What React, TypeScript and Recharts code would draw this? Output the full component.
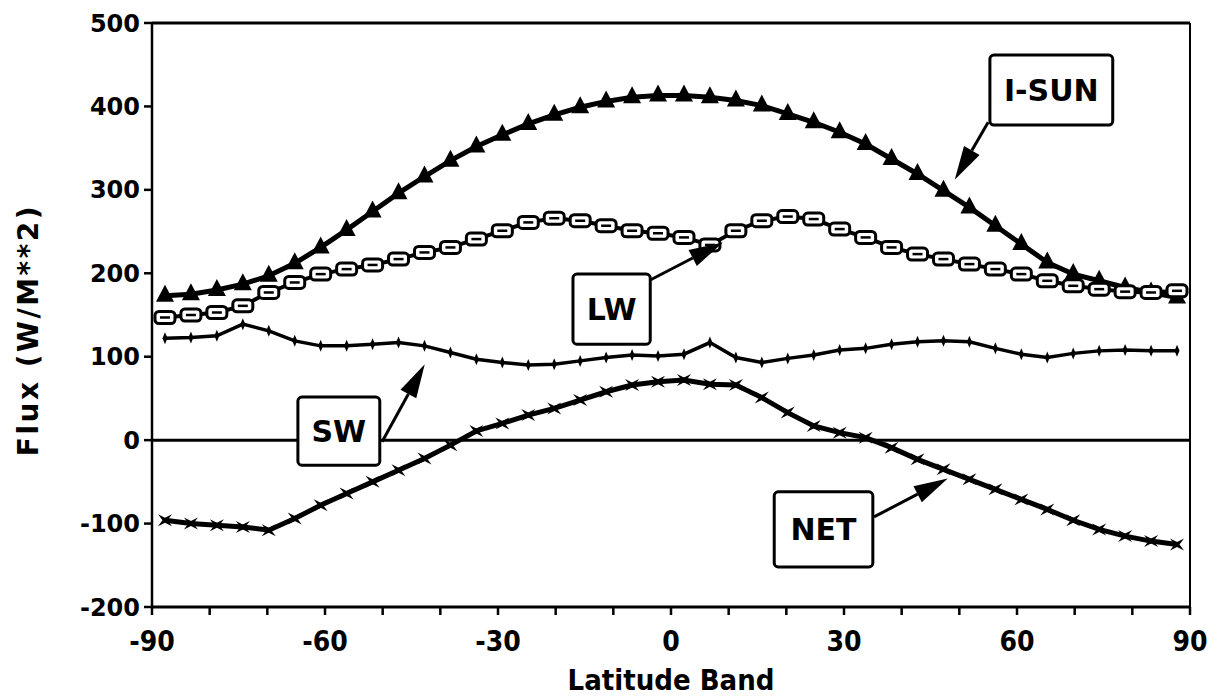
import { LineChart, Line, XAxis, YAxis, ReferenceLine, ReferenceArea } from "recharts"

// 4.5 degree latitude bands (band centres)
const latitudes = [
  -87.75, -83.25, -78.75, -74.25, -69.75, -65.25, -60.75, -56.25, -51.75, -47.25,
  -42.75, -38.25, -33.75, -29.25, -24.75, -20.25, -15.75, -11.25, -6.75, -2.25,
  2.25, 6.75, 11.25, 15.75, 20.25, 24.75, 29.25, 33.75, 38.25, 42.75,
  47.25, 51.75, 56.25, 60.75, 65.25, 69.75, 74.25, 78.75, 83.25, 87.75,
]

const iSun = [
  173, 175, 180, 187, 197, 212, 231, 252, 274, 296,
  316, 335, 352, 366, 379, 390, 399, 406, 411, 413,
  413, 411, 407, 401, 391, 381, 369, 355, 337, 319,
  299, 279, 257, 235, 213, 199, 191, 183, 177, 171,
]

const lw = [
  147, 150, 153, 161, 177, 189, 199, 205, 210, 217,
  225, 231, 241, 251, 261, 266, 263, 257, 251, 248,
  243, 234, 251, 263, 268, 265, 253, 243, 231, 223,
  217, 211, 205, 199, 191, 185, 181, 178, 177, 179,
]

const sw = [
  122, 123, 125, 139, 131, 119, 113, 113, 115, 117,
  113, 105, 97, 93, 90, 91, 95, 99, 102, 101,
  103, 117, 99, 93, 98, 102, 108, 110, 115, 118,
  119, 118, 110, 103, 99, 104, 107, 108, 107, 107,
]

const net = [
  -96, -100, -102, -104, -108, -94, -78, -64, -50, -36,
  -22, -6, 11, 20, 30, 38, 48, 58, 66, 70,
  72, 67, 66, 51, 33, 17, 9, 3, -9, -23,
  -35, -47, -59, -71, -83, -96, -107, -115, -121, -125,
]

const xTicks = [-90, -80, -70, -60, -50, -40, -30, -20, -10, 0, 10, 20, 30, 40, 50, 60, 70, 80, 90]
const xLabelled = [-90, -60, -30, 0, 30, 60, 90]
const yTicks = [-200, -100, 0, 100, 200, 300, 400, 500]

const data = latitudes.map((lat, i) => ({ lat, iSun: iSun[i], lw: lw[i], sw: sw[i], net: net[i] }))

// callout boxes [lat1, lat2, flux1, flux2] and arrow tail/tip, in data units
const callouts = [
  { text: "I-SUN", box: [55.3, 76.6, 377.7, 461.6], tail: [55.0, 381], tip: [49.2, 312] },
  { text: "LW", box: [-17.0, -3.6, 115, 199], tail: [-3.6, 192], tip: [9.0, 237] },
  { text: "SW", box: [-64.7, -50.5, -30, 51.6], tail: [-50.1, -2], tip: [-42.7, 91] },
  { text: "NET", box: [17.9, 35.0, -152, -62], tail: [35.2, -92], tip: [48.0, -46] },
]

const FONT = "'DejaVu Sans', 'Liberation Sans', sans-serif"
const COND = "'DejaVu Sans Condensed', 'DejaVu Sans', sans-serif"

const Arrow = (props: any) => {
  const { x1, y1, x2, y2 } = props
  const dx = x2 - x1
  const dy = y2 - y1
  const len = Math.hypot(dx, dy) || 1
  const ux = dx / len
  const uy = dy / len
  const head = 34
  const half = 9
  const bx = x2 - ux * head
  const by = y2 - uy * head
  const px = -uy * half
  const py = ux * half
  return (
    <g>
      <line x1={x1} y1={y1} x2={bx} y2={by} stroke="#000" strokeWidth={3} />
      <polygon points={`${x2},${y2} ${bx + px},${by + py} ${bx - px},${by - py}`} fill="#000" />
    </g>
  )
}

const Triangle = (p: any) => {
  if (p.cx == null) return <g key={`t${p.index}`} />
  const { cx, cy } = p
  return <path key={`t${p.index}`} d={`M${cx},${cy - 11} L${cx + 9},${cy + 6} L${cx - 9},${cy + 6} Z`} fill="#000" />
}

const Glyph = (p: any) => {
  if (p.cx == null) return <g key={`g${p.index}`} />
  const { cx, cy } = p
  return (
    <g key={`g${p.index}`}>
      <rect x={cx - 10} y={cy - 6} width={20} height={12} rx={4} fill="#fff" stroke="#000" strokeWidth={3} />
      <line x1={cx - 5} x2={cx + 5} y1={cy} y2={cy} stroke="#000" strokeWidth={2.5} />
    </g>
  )
}

const Tick = (p: any) => {
  if (p.cx == null) return <g key={`k${p.index}`} />
  const { cx, cy } = p
  return <path key={`k${p.index}`} d={`M${cx},${cy - 6} L${cx + 2.5},${cy} L${cx},${cy + 6} L${cx - 2.5},${cy} Z`} fill="#000" />
}

const Star = (p: any) => {
  if (p.cx == null) return <g key={`s${p.index}`} />
  const { cx, cy } = p
  return (
    <path
      key={`s${p.index}`}
      d={`M${cx - 7},${cy - 6} L${cx},${cy - 2.5} L${cx + 7},${cy - 6} L${cx + 2.5},${cy} L${cx + 7},${cy + 6} L${cx},${cy + 2.5} L${cx - 7},${cy + 6} L${cx - 2.5},${cy} Z`}
      fill="#000"
    />
  )
}

export default function App() {
  return (
    <div style={{ position: "absolute", left: 0, top: 0, width: 1214, height: 698, background: "#fff" }}>
      <LineChart width={1214} height={698} data={data} margin={{ top: 23, right: 24, left: 0, bottom: 6 }}>
        <XAxis
          dataKey="lat"
          type="number"
          domain={[-90, 90]}
          ticks={xTicks}
          interval={0}
          tickFormatter={(v: number) => (xLabelled.includes(v) ? String(v) : "")}
          height={85}
          axisLine={{ stroke: "#000", strokeWidth: 3 }}
          tickLine={{ stroke: "#000", strokeWidth: 2.5 }}
          tickSize={8}
          tickMargin={16}
          tick={{ fill: "#000", fontSize: 28, fontWeight: 700, fontFamily: COND }}
          label={{
            content: (p: any) => {
              const vb = p.viewBox || { x: 152, y: 607, width: 1038, height: 85 }
              return (
                <text x={vb.x + vb.width / 2} y={vb.y + 73} textAnchor="middle" dominantBaseline="central"
                  fontSize={29} fontWeight={700} fontFamily={COND} fill="#000">
                  Latitude Band
                </text>
              )
            },
          }}
        />
        <YAxis
          type="number"
          domain={[-200, 500]}
          ticks={yTicks}
          interval={0}
          width={152}
          axisLine={{ stroke: "#000", strokeWidth: 2.5 }}
          tickLine={{ stroke: "#000", strokeWidth: 2.5 }}
          tickSize={8}
          tickMargin={4}
          tick={{ fill: "#000", fontSize: 24, fontWeight: 700, fontFamily: FONT }}
          label={{
            content: (p: any) => {
              const vb = p.viewBox || { x: 0, y: 23, width: 152, height: 584 }
              const x = vb.x + 28
              const y = vb.y + vb.height / 2 + 15
              return (
                <text x={x} y={y} transform={`rotate(-90 ${x} ${y})`} textAnchor="middle" dominantBaseline="central"
                  fontSize={28} fontWeight={700} fontFamily={FONT} letterSpacing={2.5} fill="#000">
                  Flux (W/M**2)
                </text>
              )
            },
          }}
        />
        <ReferenceLine y={500} stroke="#000" strokeWidth={3} ifOverflow="extendDomain" />
        <ReferenceLine x={90} stroke="#000" strokeWidth={2} ifOverflow="extendDomain" />
        <ReferenceLine y={0} stroke="#000" strokeWidth={3} />

        <Line dataKey="iSun" type="linear" stroke="#000" strokeWidth={5} dot={Triangle} isAnimationActive={false} />
        <Line dataKey="lw" type="linear" stroke="#000" strokeWidth={4} dot={Glyph} isAnimationActive={false} />
        <Line dataKey="sw" type="linear" stroke="#000" strokeWidth={3.5} dot={Tick} isAnimationActive={false} />
        <Line dataKey="net" type="linear" stroke="#000" strokeWidth={5} dot={Star} isAnimationActive={false} />

        {callouts.map((c) => (
          <ReferenceLine
            key={`a-${c.text}`}
            segment={[{ x: c.tail[0], y: c.tail[1] }, { x: c.tip[0], y: c.tip[1] }]}
            shape={Arrow}
            zIndex={1100}
          />
        ))}
        {callouts.map((c) => (
          <ReferenceArea
            key={`b-${c.text}`}
            x1={c.box[0]}
            x2={c.box[1]}
            y1={c.box[2]}
            y2={c.box[3]}
            fill="#fff"
            fillOpacity={1}
            stroke="#000"
            strokeWidth={3}
            radius={4}
            zIndex={1200}
            label={{ value: c.text, position: "center", fontSize: 30, fontWeight: 700, fontFamily: FONT, fill: "#000" }}
          />
        ))}
      </LineChart>
    </div>
  )
}
